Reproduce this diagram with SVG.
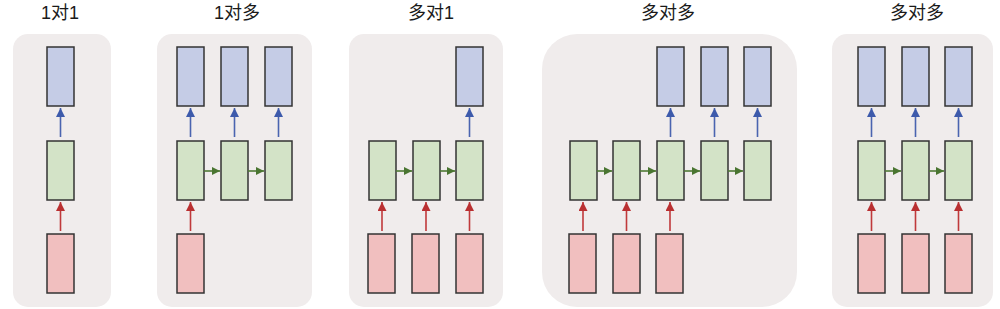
<svg xmlns="http://www.w3.org/2000/svg" width="1000" height="309" viewBox="0 0 1000 309">
<style>
.bg{fill:#f0ecec}
.b{fill:#c5cce6;stroke:#333;stroke-width:1.5}
.g{fill:#d3e3c7;stroke:#333;stroke-width:1.5}
.r{fill:#f1bfbf;stroke:#333;stroke-width:1.5}
.t{font-family:"Liberation Sans","Noto Sans CJK SC",sans-serif;font-size:18px;fill:#1a1a1a;text-anchor:middle}
.ab{stroke:#4a64b0;stroke-width:1.6;fill:none;marker-end:url(#mb)}
.ar{stroke:#c0393b;stroke-width:1.6;fill:none;marker-end:url(#mr)}
.ag{stroke:#4f7a36;stroke-width:1.6;fill:none;marker-end:url(#mg)}
</style>
<defs>
<marker id="mb" viewBox="0 0 10 10" refX="10" refY="5" markerWidth="10" markerHeight="9" markerUnits="userSpaceOnUse" orient="auto"><path d="M0,0L10,5L0,10z" fill="#3d5aab"/></marker>
<marker id="mr" viewBox="0 0 10 10" refX="10" refY="5" markerWidth="10" markerHeight="9" markerUnits="userSpaceOnUse" orient="auto"><path d="M0,0L10,5L0,10z" fill="#b92f31"/></marker>
<marker id="mg" viewBox="0 0 10 10" refX="10" refY="5" markerWidth="9" markerHeight="8" markerUnits="userSpaceOnUse" orient="auto"><path d="M0,0L10,5L0,10z" fill="#4a7531"/></marker>
</defs>
<g id="titles">
<text class="t" x="60" y="19">1对1</text>
<text class="t" x="237" y="19">1对多</text>
<text class="t" x="431" y="19">多对1</text>
<text class="t" x="668" y="19">多对多</text>
<text class="t" x="917" y="19">多对多</text>
</g>
<g id="panel1">
<rect class="bg" x="13" y="34" width="98" height="273" rx="15"/>
<rect class="b" x="47" y="47" width="27" height="59"/>
<rect class="g" x="47" y="141" width="27" height="59"/>
<rect class="r" x="47" y="234" width="27" height="59"/>
</g>
<g id="panel2">
<rect class="bg" x="157" y="34" width="155" height="273" rx="15"/>
<rect class="b" x="177" y="47" width="27" height="59"/>
<rect class="b" x="221" y="47" width="27" height="59"/>
<rect class="b" x="265" y="47" width="27" height="59"/>
<rect class="g" x="177" y="141" width="27" height="59"/>
<rect class="g" x="221" y="141" width="27" height="59"/>
<rect class="g" x="265" y="141" width="27" height="59"/>
<rect class="r" x="177" y="234" width="27" height="59"/>
</g>
<g id="panel3">
<rect class="bg" x="349" y="34" width="154" height="273" rx="15"/>
<rect class="b" x="456" y="47" width="27" height="59"/>
<rect class="g" x="369" y="141" width="27" height="59"/>
<rect class="g" x="413" y="141" width="27" height="59"/>
<rect class="g" x="456" y="141" width="27" height="59"/>
<rect class="r" x="368" y="234" width="27" height="59"/>
<rect class="r" x="412" y="234" width="27" height="59"/>
<rect class="r" x="456" y="234" width="27" height="59"/>
</g>
<g id="panel4">
<rect class="bg" x="542" y="34" width="255" height="273" rx="35"/>
<rect class="b" x="657" y="47" width="27" height="59"/>
<rect class="b" x="701" y="47" width="27" height="59"/>
<rect class="b" x="744" y="47" width="27" height="59"/>
<rect class="g" x="570" y="141" width="27" height="59"/>
<rect class="g" x="613" y="141" width="27" height="59"/>
<rect class="g" x="657" y="141" width="27" height="59"/>
<rect class="g" x="701" y="141" width="27" height="59"/>
<rect class="g" x="744" y="141" width="27" height="59"/>
<rect class="r" x="569" y="234" width="27" height="59"/>
<rect class="r" x="613" y="234" width="27" height="59"/>
<rect class="r" x="656" y="234" width="27" height="59"/>
</g>
<g id="panel5">
<rect class="bg" x="832" y="34" width="161" height="273" rx="15"/>
<rect class="b" x="858" y="47" width="27" height="59"/>
<rect class="b" x="902" y="47" width="27" height="59"/>
<rect class="b" x="945" y="47" width="27" height="59"/>
<rect class="g" x="858" y="141" width="27" height="59"/>
<rect class="g" x="902" y="141" width="27" height="59"/>
<rect class="g" x="945" y="141" width="27" height="59"/>
<rect class="r" x="858" y="234" width="27" height="59"/>
<rect class="r" x="902" y="234" width="27" height="59"/>
<rect class="r" x="945" y="234" width="27" height="59"/>
</g>
<g id="connectors">
<path class="ab" d="M60.5,137V108"/>
<path class="ar" d="M60.5,231V202"/>
<path class="ab" d="M190.5,137V108"/>
<path class="ab" d="M234.5,137V108"/>
<path class="ab" d="M278.5,137V108"/>
<path class="ar" d="M190.5,231V202"/>
<path class="ag" d="M204,171H220"/>
<path class="ag" d="M248,171H264"/>
<path class="ab" d="M469.5,137V108"/>
<path class="ar" d="M382,231V202"/>
<path class="ar" d="M426,231V202"/>
<path class="ar" d="M469.5,231V202"/>
<path class="ag" d="M396,171H412"/>
<path class="ag" d="M440,171H455"/>
<path class="ab" d="M670.5,137V108"/>
<path class="ab" d="M714.5,137V108"/>
<path class="ab" d="M757.5,137V108"/>
<path class="ar" d="M583,231V202"/>
<path class="ar" d="M626.5,231V202"/>
<path class="ar" d="M670,231V202"/>
<path class="ag" d="M597,171H612"/>
<path class="ag" d="M640,171H656"/>
<path class="ag" d="M684,171H700"/>
<path class="ag" d="M728,171H743"/>
<path class="ab" d="M871.5,137V108"/>
<path class="ab" d="M915.5,137V108"/>
<path class="ab" d="M958.5,137V108"/>
<path class="ar" d="M871.5,231V202"/>
<path class="ar" d="M915.5,231V202"/>
<path class="ar" d="M958.5,231V202"/>
<path class="ag" d="M885,171H901"/>
<path class="ag" d="M929,171H944"/>
</g>
</svg>
